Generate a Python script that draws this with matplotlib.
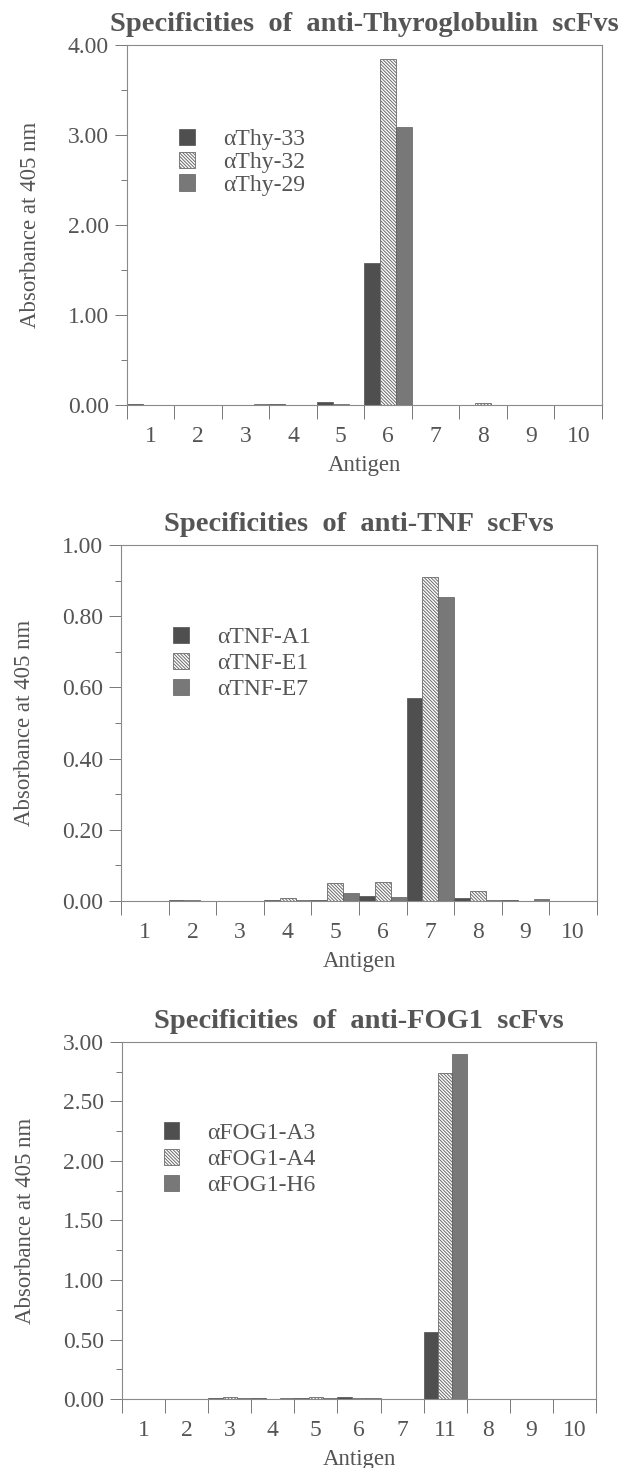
import matplotlib
matplotlib.use('Agg')
import matplotlib.pyplot as plt
import numpy as np
from matplotlib.ticker import FixedLocator, MultipleLocator, FormatStrFormatter

plt.rcParams['font.family'] = ['Liberation Serif', 'DejaVu Serif']
plt.rcParams['hatch.linewidth'] = 0.7

TXT = '#555555'
DARK = '#4f4f4f'
GREY = '#787878'
HATCH_EDGE = '#6a6a6a'

# --- data ---
thy_antigens = ['1', '2', '3', '4', '5', '6', '7', '8', '9', '10']
thy_names = ['αThy-33', 'αThy-32', 'αThy-29']
thy_33 = [0.010, 0.003, 0.004, 0.006, 0.030, 1.58, 0.003, 0.003, 0.002, 0.002]
thy_32 = [0.004, 0.002, 0.003, 0.005, 0.006, 3.85, 0.002, 0.025, 0.002, 0.002]
thy_29 = [0.003, 0.002, 0.007, 0.004, 0.005, 3.09, 0.003, 0.004, 0.002, 0.003]

tnf_antigens = ['1', '2', '3', '4', '5', '6', '7', '8', '9', '10']
tnf_names = ['αTNF-A1', 'αTNF-E1', 'αTNF-E7']
tnf_a1 = [0.001, 0.002, 0.001, 0.002, 0.003, 0.013, 0.57, 0.008, 0.002, 0.001]
tnf_e1 = [0.001, 0.004, 0.001, 0.008, 0.050, 0.054, 0.91, 0.027, 0.001, 0.001]
tnf_e7 = [0.001, 0.001, 0.001, 0.002, 0.024, 0.012, 0.855, 0.002, 0.005, 0.001]

fog_antigens = ['1', '2', '3', '4', '5', '6', '7', '11', '8', '9', '10']
fog_names = ['αFOG1-A3', 'αFOG1-A4', 'αFOG1-H6']
fog_a3 = [0.004, 0.003, 0.006, 0.008, 0.006, 0.013, 0.003, 0.56, 0.003, 0.002, 0.002]
fog_a4 = [0.002, 0.002, 0.015, 0.004, 0.020, 0.010, 0.002, 2.74, 0.002, 0.002, 0.002]
fog_h6 = [0.002, 0.002, 0.012, 0.010, 0.008, 0.007, 0.002, 2.90, 0.002, 0.002, 0.003]


def panel(ax, title, antigens, names, series, ymax, ystep, leg_xy, leg_sp):
    n = len(antigens)
    x = np.arange(n)
    w = 1 / 3
    ax.bar(x - w, series[0], w, color=DARK, edgecolor=DARK, linewidth=0.5, label=names[0])
    ax.bar(x, series[1], w, color='white', edgecolor=HATCH_EDGE, hatch='\\' * 10,
           linewidth=0.6, label=names[1])
    ax.bar(x + w, series[2], w, color=GREY, edgecolor='#5e5e5e', linewidth=0.5, label=names[2])

    ax.set_xlim(-0.5, n - 0.5)
    ax.set_ylim(0, ymax)
    ax.xaxis.set_major_locator(FixedLocator(np.arange(n + 1) - 0.5))
    ax.xaxis.set_minor_locator(FixedLocator(x))
    ax.set_xticklabels([], minor=False)
    ax.set_xticklabels(antigens, minor=True)
    ax.tick_params(axis='x', which='major', direction='out', length=10, width=0.7, color='#777')
    ax.tick_params(axis='x', which='minor', length=0, pad=15, labelsize=17, labelcolor=TXT)

    ax.yaxis.set_major_locator(MultipleLocator(ystep))
    ax.yaxis.set_minor_locator(MultipleLocator(ystep / 2))
    ax.yaxis.set_major_formatter(FormatStrFormatter('%.2f'))
    ax.tick_params(axis='y', which='major', direction='out', length=9, width=0.7,
                   color='#777', labelsize=17, labelcolor=TXT, pad=4)
    ax.tick_params(axis='y', which='minor', direction='out', length=4, width=0.7, color='#777')

    for s in ax.spines.values():
        s.set_color('#8a8a8a')
        s.set_linewidth(0.8)

    ax.set_title(title, fontsize=20.5, fontweight='bold', color=TXT, pad=10)
    ax.set_ylabel('Absorbance at 405 nm', fontsize=16.5, color=TXT, labelpad=19)
    ax.set_xlabel('Antigen', fontsize=16.5, color=TXT, labelpad=6)
    ax.legend(loc='upper left', bbox_to_anchor=leg_xy, frameon=False, fontsize=17,
              labelcolor=TXT, handlelength=0.65, handleheight=0.7, handletextpad=1.2,
              labelspacing=leg_sp, borderpad=0, borderaxespad=0)


fig = plt.figure(figsize=(6.28, 14.68), dpi=100)
ax1 = fig.add_axes([0.2022, 0.7241, 0.7564, 0.2452])
ax2 = fig.add_axes([0.1927, 0.3862, 0.7579, 0.2425])
ax3 = fig.add_axes([0.1943, 0.0470, 0.7547, 0.2432])

panel(ax1, 'Specificities  of  anti-Thyroglobulin  scFvs', thy_antigens, thy_names,
      [thy_33, thy_32, thy_29], 4.0, 1.0, (0.11, 0.767), 0.05)
panel(ax2, 'Specificities  of  anti-TNF  scFvs', tnf_antigens, tnf_names,
      [tnf_a1, tnf_e1, tnf_e7], 1.0, 0.2, (0.11, 0.77), 0.18)
panel(ax3, 'Specificities  of  anti-FOG1  scFvs', fog_antigens, fog_names,
      [fog_a3, fog_a4, fog_h6], 3.0, 0.5, (0.088, 0.775), 0.2)

fig.savefig('out.png', dpi=100)
